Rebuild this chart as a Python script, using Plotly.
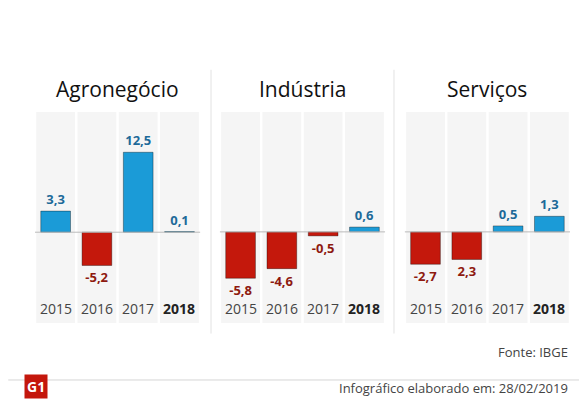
import plotly.graph_objects as go
from plotly.subplots import make_subplots

years = ["2015", "2016", "2017", "2018"]
sectors = ["Agronegócio", "Indústria", "Serviços"]
agro = [3.3, -5.2, 12.5, 0.1]
industria = [-5.8, -4.6, -0.5, 0.6]
servicos = [-2.7, -2.3, 0.5, 1.3]
agro_txt = ["3,3", "-5,2", "12,5", "0,1"]
industria_txt = ["-5,8", "-4,6", "-0,5", "0,6"]
servicos_txt = ["-2,7", "2,3", "0,5", "1,3"]

series = [agro, industria, servicos]
labels = [agro_txt, industria_txt, servicos_txt]
ranges = [[-14.2, 18.8], [-11.4, 15.0], [-7.6, 10.0]]

BLUE, RED = "#1b9bd7", "#c4180c"
BLUE_T, RED_T = "#1d6a99", "#8e1a10"
FONT = "Open Sans"

fig = make_subplots(rows=1, cols=3, horizontal_spacing=0.037)

for k, vals in enumerate(series):
    col = k + 1
    ax = "" if k == 0 else str(col)
    colors = [BLUE if v >= 0 else RED for v in vals]
    tcolors = [BLUE_T if v >= 0 else RED_T for v in vals]
    fig.add_trace(go.Bar(
        x=years, y=vals, width=0.72,
        marker=dict(color=colors, line=dict(color="rgba(0,0,0,0.35)", width=1)),
        text=["<b>%s</b>" % t for t in labels[k]], textposition="outside", cliponaxis=False,
        textfont=dict(family=FONT, size=13, color=tcolors),
        hoverinfo="skip", showlegend=False), row=1, col=col)
    for i, yr in enumerate(years):
        fig.add_shape(type="rect", xref="x" + ax, yref="y" + ax + " domain",
                      x0=i - 0.47, x1=i + 0.47, y0=0, y1=1,
                      fillcolor="#f5f5f5", line_width=0, layer="below")
        fig.add_annotation(x=i, y=0.015, xref="x" + ax, yref="paper",
                           text="<b>%s</b>" % yr if yr == "2018" else yr,
                           showarrow=False, xanchor="center",
                           font=dict(family=FONT, size=14, color="#222" if yr == "2018" else "#444"))
    fig.add_shape(type="line", xref="x" + ax + " domain", yref="y" + ax,
                  x0=0, x1=1, y0=0, y1=0, line=dict(color="#bbbbbb", width=1))
    fig.update_yaxes(range=ranges[k], visible=False, row=1, col=col)
    fig.update_xaxes(type="category", range=[-0.5, 3.5], visible=False, row=1, col=col)
    dom = fig.layout["xaxis" + ax].domain
    fig.add_annotation(x=(dom[0] + dom[1]) / 2, y=1.035, xref="paper", yref="paper",
                       text=sectors[k], showarrow=False, yanchor="bottom", xanchor="center",
                       font=dict(family=FONT, size=21, color="#111"))

# separators between panels
for xp in [0.329, 0.671]:
    fig.add_shape(type="line", xref="paper", yref="paper", x0=xp, x1=xp,
                  y0=-0.05, y1=1.2, line=dict(color="#e2e2e2", width=1))
fig.add_shape(type="line", xref="paper", yref="paper", x0=-0.05, x1=1.05,
              y0=-0.27, y1=-0.27, line=dict(color="#d5d5d5", width=1))

fig.add_annotation(x=1.0, y=-0.19, xref="paper", yref="paper", text="Fonte: IBGE",
                   showarrow=False, xanchor="right", font=dict(family=FONT, size=13, color="#444"))
fig.add_annotation(x=1.0, y=-0.36, xref="paper", yref="paper",
                   text="Infográfico elaborado em: 28/02/2019",
                   showarrow=False, xanchor="right", font=dict(family=FONT, size=13, color="#444"))
fig.add_annotation(x=-0.02, y=-0.36, xref="paper", yref="paper", text="<b>G1</b>",
                   showarrow=False, xanchor="left",
                   font=dict(family=FONT, size=14, color="white"), bgcolor="#c4170c", borderpad=2)

fig.update_layout(width=587, height=420, margin=dict(l=27, r=25, t=104, b=105),
                  plot_bgcolor="white", paper_bgcolor="white", bargap=0.2)
fig.write_html("out.html")
